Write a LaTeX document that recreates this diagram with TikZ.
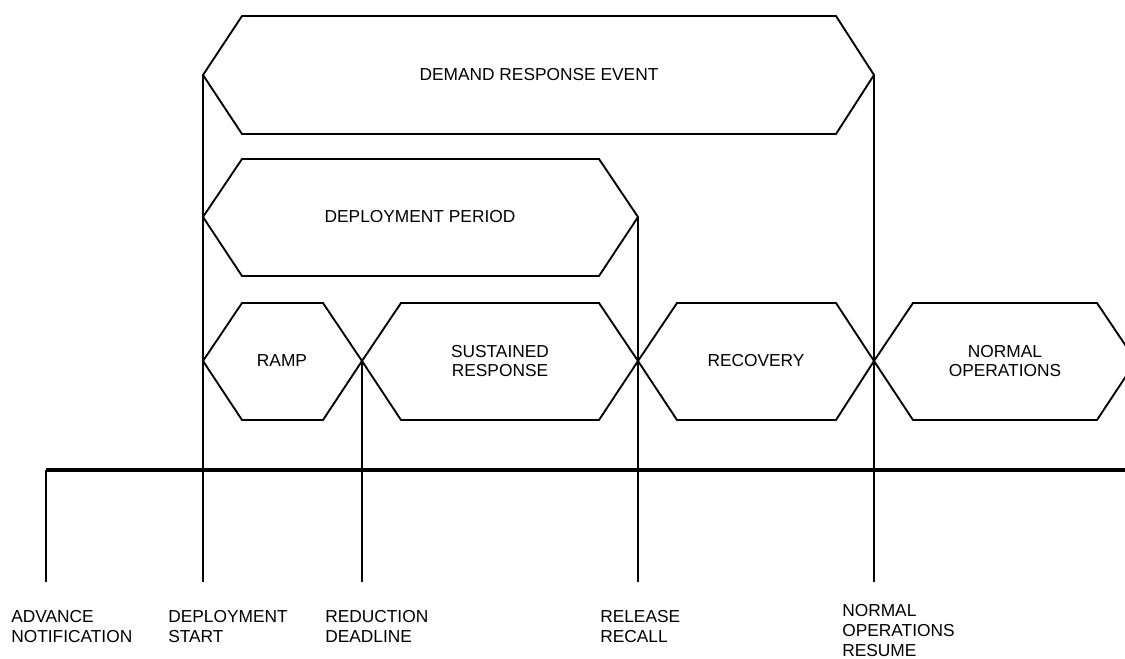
\documentclass[tikz,border=0pt]{standalone}
\usepackage{fontspec}
\setmainfont{Liberation Sans}
\tikzset{
  phase/.style={line width=1.4pt, line join=miter},
  phasetext/.style={font=\fontsize{13}{13.6}\selectfont, align=center, inner sep=0pt},
  tickline/.style={line width=0.8pt},
  timeaxis/.style={line width=2.4pt},
  eventlabel/.style={font=\fontsize{13}{15}\selectfont, align=left, anchor=north west, inner sep=0pt}
}
\begin{document}
\begin{tikzpicture}[x=0.75pt,y=-0.75pt]
        \useasboundingbox (0,0) rectangle (1125,659);

        \draw[phase] (203,75) coordinate (evL) -- (242,16) -- (836,16) -- (874,75) coordinate (evR) -- (836,134) -- (242,134) -- cycle;
        \node[phasetext] (ev) at (539,75) {DEMAND RESPONSE EVENT};

        \draw[phase] (203,217) coordinate (depL) -- (242,159) -- (599,159) -- (638,217) coordinate (depR) -- (599,276) -- (242,276) -- cycle;
        \node[phasetext] (dep) at (420,217) {DEPLOYMENT PERIOD};

        \draw[phase] (203,361) -- (242,303) -- (323,303) -- (362,361) coordinate (rampR) -- (323,420) -- (242,420) -- cycle;
        \draw[phase] (362,361) -- (401,303) -- (599,303) -- (638,361) -- (599,420) -- (401,420) -- cycle;
        \draw[phase] (638,361) -- (677,303) -- (836,303) -- (874,361) -- (836,420) -- (677,420) -- cycle;
        \draw[phase] (874,361) -- (913,303) -- (1097,303) -- (1136,361) -- (1097,420) -- (913,420) -- cycle;
        \node[phasetext] (ramp) at (282,361) {RAMP};
        \node[phasetext] (sust) at (500,361) {SUSTAINED\\RESPONSE};
        \node[phasetext] (recov) at (756,361) {RECOVERY};
        \node[phasetext] (normop) at (1005,361) {NORMAL\\OPERATIONS};

        \coordinate (axL) at (46,470);
        \coordinate (axR) at (1130,470);
        \draw[timeaxis] (axL) -- (axR);

        \coordinate (bAdv) at (46,582);
        \coordinate (bDep) at (203,582);
        \coordinate (bRed) at (362,582);
        \coordinate (bRel) at (638,582);
        \coordinate (bRes) at (874,582);
        \draw[tickline] (axL) -- (bAdv);
        \draw[tickline] (evL) -- (bDep);
        \draw[tickline] (rampR) -- (bRed);
        \draw[tickline] (depR) -- (bRel);
        \draw[tickline] (evR) -- (bRes);

        \node[eventlabel] (lAdv) at (11,610) {ADVANCE\\NOTIFICATION};
        \node[eventlabel] (lDep) at (168,610) {DEPLOYMENT\\START};
        \node[eventlabel] (lRed) at (325,610) {REDUCTION\\DEADLINE};
        \node[eventlabel] (lRel) at (600,610) {RELEASE\\RECALL};
        \node[eventlabel] (lRes) at (842,604) {NORMAL\\OPERATIONS\\RESUME};
\end{tikzpicture}
\end{document}
